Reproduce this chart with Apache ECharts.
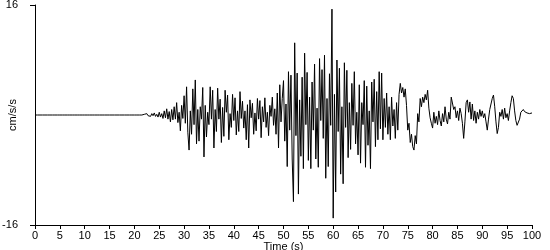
<!DOCTYPE html>
<html>
<head>
<meta charset="utf-8">
<script src="https://cdn.jsdelivr.net/npm/echarts@6/dist/echarts.min.js"></script>
<style>html,body{margin:0;padding:0;background:#fff}#c{width:550px;height:250px}</style>
</head>
<body>
<div id="c"></div>
<script>
// Sampling of the record
const sampleStart = 0;
const sampleStep = 0.25; // seconds
// Acceleration record (cm/s/s), one value per sample
const accel = [
  0,0,0,0, 0,0,0,0, 0,0,0,0, 0,0,0,0, 0,0,0,0, 0,0,0,0, 0,0,0,0, 0,0,0,0,
  0,0,0,0, 0,0,0,0, 0,0,0,0, 0,0,0,0, 0,0,0,0, 0,0,0,0, 0,0,0,0, 0,0,0,0,
  0,0,0,0, 0,0,0,0, 0,0,0,0, 0,0,0,0, 0,0,0,0, 0,0,0,0,
  // t = 22 s
  0.1,-0.1,0.2,-0.1, 0.1,-0.2,0.2,-0.1, 0.3,-0.2,0.1,-0.3, 0.4,-0.3,0.2,-0.5,
  0.6,-0.4,0.9,-0.6, 0.5,-1.0,0.8,-0.7, 1.2,-0.6,1.8,-1.1, 0.4,-2.3,1.4,-0.5,
  // t = 30 s
  2.8,-1.2,4.1,-2.5, -5.1,0.6,-2.8,3.8, -1.4,5.1,-4.2,0.8, -3.8,1.2,-0.6,4.0,
  -6.1,1.4,-3.2,0.4, -1.4,4.1,-0.6,3.6, -4.8,0.8,-2.4,3.9, -0.6,2.3,-4.0,1.1,
  -3.1,3.6,0.4,2.9, -3.6,0.2,-1.8,3.0,
  // t = 40 s
  -0.8,2.5,-2.9,0.6, -2.4,3.4,-0.5,2.0, -1.9,0.6,-3.6,1.5, -4.8,2.2,-0.4,1.7,
  -2.8,0.3,-2.3,2.4, -0.6,2.1,-3.3,1.2, -1.0,2.5,-1.8,0.4, -3.0,1.4,-0.2,2.6,
  -1.5,0.9,-2.8,3.2, -4.8,4.4,-1.0,2.4,
  // t = 50 s
  5.0,-3.8,1.6,-7.5, 6.3,-2.2,5.8,-6.4, -12.6,10.5,-3.0,6.1, -11.5,2.2,-6.0,5.5,
  -7.8,9.0,-1.4,6.2, -6.6,2.6,-7.8,4.8, -2.2,7.4,-6.4,1.0, -7.6,8.2,-0.8,6.6,
  -3.4,8.7,-9.2,2.4, -7.5,6.0,-1.5,15.4,
  // t = 60 s
  -15.0,3.0,-11.2,8.0, -2.4,6.8,-8.6,1.2, -10.0,7.6,-1.8,6.5, -6.2,1.8,-5.0,4.6,
  -1.5,6.3,-4.2,0.4, -5.8,4.4,-7.0,1.8, -1.4,5.0,-7.6,4.2, -4.4,0.6,-7.8,4.8,
  -1.0,5.2,-4.6,3.4, -3.6,6.3,-2.0,6.1,
  // t = 70 s
  -3.6,2.4,-1.8,3.2, -2.8,1.2,-3.6,2.6, -1.6,0.8,-3.4,1.8, -2.2,3.0,4.6,3.2,
  4.0,2.6,3.8,1.4, -2.2,-1.2,-4.0,-2.8, -4.6,-5.1,-3.0,-4.2, 0.2,-1.0,2.4,1.2,
  2.6,1.8,3.0,2.2, 3.6,1.0,-0.4,-1.2,
  // t = 80 s
  -1.9,0.4,-1.2,-0.2, -1.4,0.6,-0.8,-1.6, 0.2,-1.0,1.2,-0.6, -1.3,0.4,-0.6,2.6,
  2.4,0.8,1.2,-0.4, 0.6,-0.8,1.0,0.2, -1.2,-3.4,-1.0,1.8, 2.2,0.4,1.9,-0.6,
  1.6,-0.8,0.6,-1.2, 0.4,-0.6,0.8,-0.2,
  // t = 90 s
  0.6,-0.4,0.2,-1.0, -2.2,-0.6,0.8,1.6, 2.4,2.9,1.2,-1.0, -2.7,-1.8,0.4,-0.2,
  0.8,-0.6,1.0,-0.4, 0.2,-0.8,0.6,1.8, 2.8,2.4,0.6,-0.8, -1.5,-1.4,-0.6,0.4,
  0.6,0.8,0.5,0.4, 0.3,0.4,0.2,0.3,
  // t = 100 s
  0.3
];
// Axis settings
const timeTicks = [0, 100, 5];   // min, max, step
const accelTicks = [-16, 16, 32];

const seriesData = accel.map((v, i) => [sampleStart + i * sampleStep, v]);

const chart = echarts.init(document.getElementById('c'), null, {renderer: 'canvas'});
const font = {fontFamily: 'Liberation Sans, Arial, sans-serif', fontSize: 11, color: '#000'};
chart.setOption({
  animation: false,
  backgroundColor: '#fff',
  grid: {left: 35, right: 18, top: 5, bottom: 25, containLabel: false, outerBoundsMode: 'none'},
  xAxis: {
    type: 'value', min: timeTicks[0], max: timeTicks[1], interval: timeTicks[2],
    name: 'Time (s)', nameLocation: 'middle', nameGap: 16, nameMoveOverlap: false,
    nameTextStyle: Object.assign({}, font),
    axisLine: {show: true, onZero: false, lineStyle: {color: '#000', width: 1}},
    axisTick: {show: true, length: 4, lineStyle: {color: '#000'}},
    axisLabel: Object.assign({margin: 5}, font),
    splitLine: {show: false}
  },
  yAxis: {
    type: 'value', min: accelTicks[0], max: accelTicks[1], interval: accelTicks[2],
    name: 'cm/s/s', nameLocation: 'middle', nameGap: 17, nameRotate: 90, nameMoveOverlap: false,
    nameTextStyle: Object.assign({}, font),
    axisLine: {show: true, lineStyle: {color: '#000', width: 1}},
    axisTick: {show: true, length: 5, lineStyle: {color: '#000'}},
    axisLabel: Object.assign({margin: 17}, font),
    splitLine: {show: false}
  },
  series: [{
    type: 'line', data: seriesData, showSymbol: false, symbol: 'none',
    lineStyle: {color: '#000', width: 1}, sampling: false
  }]
});
</script>
</body>
</html>
